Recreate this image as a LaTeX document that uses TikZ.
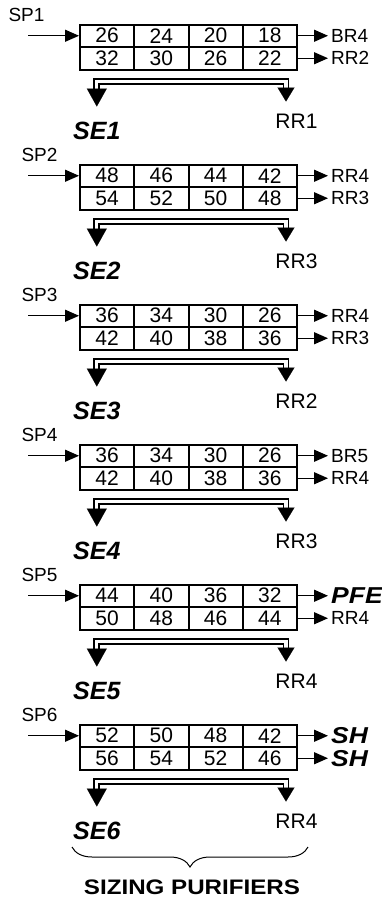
\documentclass[tikz,border=0pt]{standalone}
\usepackage{fontspec}
\setmainfont{Liberation Sans}
\newfontfamily\widesans[FakeStretch=1.15]{Liberation Sans}
\usetikzlibrary{arrows.meta,positioning,decorations.pathreplacing}

\begin{document}
\begin{tikzpicture}[x=1pt,y=-1pt,
    cell/.style={draw,line width=2pt,minimum width=54.25pt,minimum height=22.5pt,inner sep=0pt,font=\fontsize{21}{21}\selectfont},
    feed/.style={line width=1.3pt,-{Triangle[length=14pt,width=12pt]}},
    tag/.style={inner sep=0pt,font=\fontsize{19}{19}\selectfont},
    split/.style={double,double distance=3.2pt,line width=1.8pt},
    stream/.style={inner sep=0pt,font=\fontsize{25}{25}\selectfont\bfseries\itshape}]
  \useasboundingbox (0,0) rectangle (382,902);
  \foreach \k/\spx/\rowa/\rowb/\outa/\outb/\rr in {
      1/26.5/{26,24,20,18}/{32,30,26,22}/BR4/RR2/RR1,
      2/39.5/{48,46,44,42}/{54,52,50,48}/RR4/RR3/RR3,
      3/39.5/{36,34,30,26}/{42,40,38,36}/RR4/RR3/RR2,
      4/39.5/{36,34,30,26}/{42,40,38,36}/BR5/RR4/RR3,
      5/39.5/{44,40,36,32}/{50,48,46,44}/{\widesans\fontsize{23}{23}\selectfont\bfseries\itshape PFE}/RR4/RR4,
      6/39.5/{52,50,48,42}/{56,54,52,46}/{\widesans\fontsize{23}{23}\selectfont\bfseries\itshape SH}/{\widesans\fontsize{23}{23}\selectfont\bfseries\itshape SH}/RR4}
  {
    \pgfmathsetmacro{\tp}{24.5+140*(\k-1)}
    \node[tag] (sp\k) at (\spx,\tp-9.5) {SP\k};
    \foreach \v [count=\j] in \rowa
      \node[cell] (a\k-\j) at (80+54.25*\j-27.125,\tp+11.25) {\v};
    \foreach \v [count=\j] in \rowb
      \node[cell] (b\k-\j) at (80+54.25*\j-27.125,\tp+33.75) {\v};
    \coordinate (in\k) at (28,\tp+11.25);
    \draw[feed] (in\k) -- (a\k-1.west);
    \node[tag,anchor=west] (oa\k) at (331,\tp+11.25) {\outa};
    \node[tag,anchor=west] (ob\k) at (331,\tp+33.75) {\outb};
    \draw[feed,shorten >=3pt] (a\k-4.east) -- (oa\k.west);
    \draw[feed,shorten >=3pt] (b\k-4.east) -- (ob\k.west);
    % double split line down to the stream and the recycle
    \node[tag,font=\fontsize{21}{21}\selectfont] (rr\k) at (296.5,\tp+97) {\rr};
    \node[stream,anchor=west] (se\k) at (73,\tp+106) {SE\k};
    \coordinate (fork\k) at (96.8,\tp+82);
    \coordinate (back\k) at (286,\tp+77);
    \coordinate (bend\k) at (190,\tp+56.7);
    \draw[split,{Triangle[length=18pt,width=20pt,line width=0.1pt]}-{Triangle[length=14pt,width=17pt,line width=0.1pt]}]
      (fork\k) -- (fork\k |- bend\k) -- (back\k |- bend\k) -- (back\k);
  }
  \draw[decorate,decoration={brace,amplitude=20pt},line width=1pt] (308,847) -- (72,847);
  \node[font=\widesans\bfseries\fontsize{21}{21}\selectfont] (title) at (192,887) {SIZING PURIFIERS};
\end{tikzpicture}
\end{document}
